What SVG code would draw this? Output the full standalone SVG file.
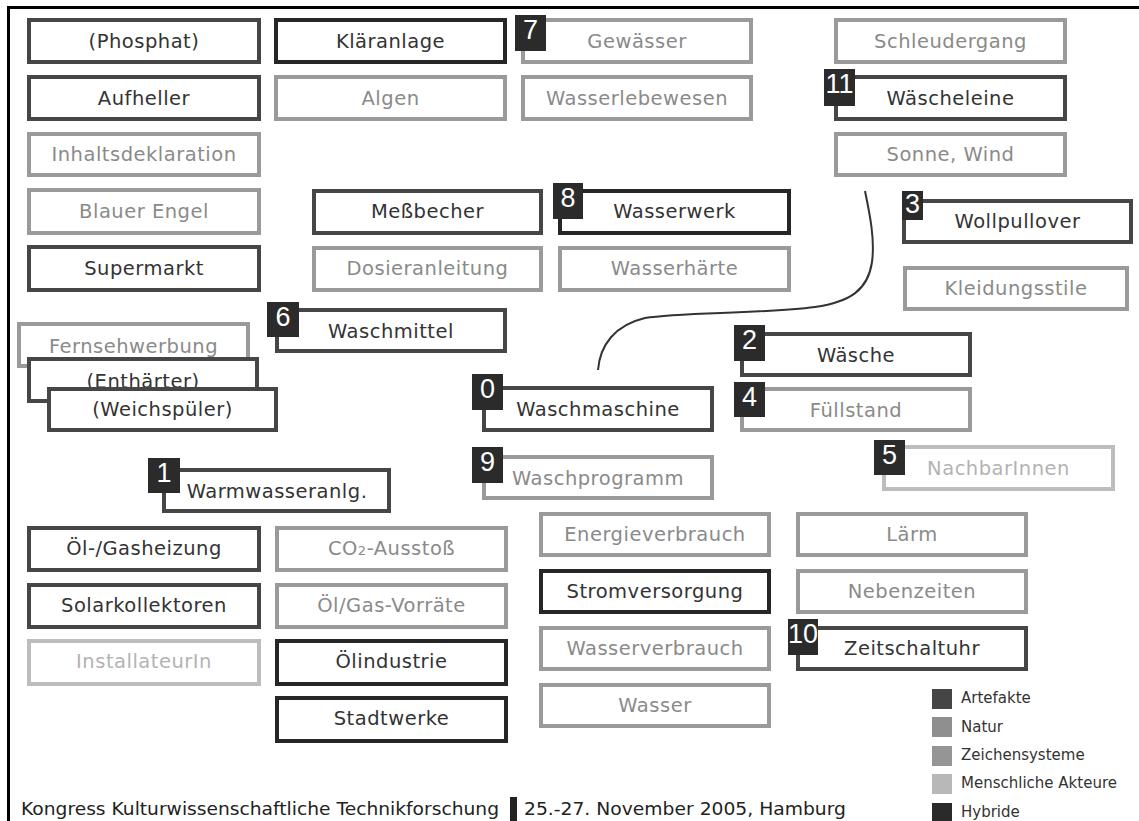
<svg xmlns="http://www.w3.org/2000/svg" width="1139" height="821" viewBox="0 0 1139 821">
<style>
rect.b{fill:#fff;stroke-width:4}
.a{stroke:#464646}
.h{stroke:#262626}
.n{stroke:#9a9a9a}
.m{stroke:#bdbdbd}
text{font-family:"DejaVu Sans","Liberation Sans",sans-serif}
text.l{font-size:19.5px;text-anchor:middle;letter-spacing:0.5px}
.ta{fill:#333}
.tn{fill:#8a8a8a}
.tm{fill:#b3b3b3}
rect.bd{fill:#2b2b2b}
text.d{font-family:"Liberation Sans",Arial,sans-serif;font-size:27px;fill:#fff;text-anchor:middle}
text.g{font-size:15px;fill:#333}
text.f{font-size:18px;fill:#222}
</style>
<rect width="1139" height="821" fill="#fff"/>
<path d="M8.5,821 V7.5 H1139" fill="none" stroke="#000" stroke-width="3"/>

<g id="connectors">
<path d="M865,191 C870,215 875,240 872,262 C868,290 850,302 815,307 C760,314 680,312 645,318 C615,325 600,345 598,370" fill="none" stroke="#333" stroke-width="2"/>
</g>

<g id="phosphat"><rect class="b a" x="29" y="20" width="230" height="42"/><text class="l ta" x="144" y="48">(Phosphat)</text></g>
<g id="aufheller"><rect class="b a" x="29" y="77" width="230" height="42"/><text class="l ta" x="144" y="105">Aufheller</text></g>
<g id="inhaltsdeklaration"><rect class="b n" x="29" y="134" width="230" height="41"/><text class="l tn" x="144" y="161">Inhaltsdeklaration</text></g>
<g id="blauer-engel"><rect class="b n" x="29" y="190" width="230" height="43"/><text class="l tn" x="144" y="218">Blauer Engel</text></g>
<g id="supermarkt"><rect class="b a" x="29" y="247" width="230" height="43"/><text class="l ta" x="144" y="275">Supermarkt</text></g>

<g id="klaeranlage"><rect class="b h" x="276" y="20" width="229" height="42"/><text class="l ta" x="390.5" y="48">Kläranlage</text></g>
<g id="algen"><rect class="b n" x="276" y="77" width="229" height="42"/><text class="l tn" x="390.5" y="105">Algen</text></g>

<g id="gewaesser"><rect class="b n" x="523" y="20" width="228" height="42"/><text class="l tn" x="637" y="48">Gewässer</text><rect class="bd" x="515" y="15" width="31" height="36"/><text class="d" x="530.5" y="39">7</text></g>
<g id="wasserlebewesen"><rect class="b n" x="523" y="77" width="228" height="42"/><text class="l tn" x="637" y="105">Wasserlebewesen</text></g>

<g id="schleudergang"><rect class="b n" x="836" y="20" width="229" height="42"/><text class="l tn" x="950.5" y="48">Schleudergang</text></g>
<g id="waescheleine"><rect class="b a" x="836" y="77" width="229" height="42"/><text class="l ta" x="950.5" y="105">Wäscheleine</text><rect class="bd" x="824" y="69" width="31" height="37"/><text class="d" x="839.5" y="93">11</text></g>
<g id="sonne-wind"><rect class="b n" x="836" y="134" width="229" height="41"/><text class="l tn" x="950.5" y="161">Sonne, Wind</text></g>

<g id="messbecher"><rect class="b a" x="314" y="191" width="227" height="42"/><text class="l ta" x="427.5" y="218">Meßbecher</text></g>
<g id="dosieranleitung"><rect class="b n" x="314" y="248" width="227" height="42"/><text class="l tn" x="427.5" y="275">Dosieranleitung</text></g>

<g id="wasserwerk"><rect class="b h" x="560" y="191" width="229" height="42"/><text class="l ta" x="674.5" y="218">Wasserwerk</text><rect class="bd" x="553" y="183" width="30" height="36"/><text class="d" x="568" y="207">8</text></g>
<g id="wasserhaerte"><rect class="b n" x="560" y="248" width="229" height="42"/><text class="l tn" x="674.5" y="275">Wasserhärte</text></g>

<g id="wollpullover"><rect class="b a" x="904" y="201" width="227" height="41"/><text class="l ta" x="1017.5" y="228">Wollpullover</text><rect class="bd" x="902" y="191" width="21" height="29"/><text class="d" x="912.5" y="213">3</text></g>
<g id="kleidungsstile"><rect class="b n" x="905" y="268" width="222" height="41"/><text class="l tn" x="1016" y="295">Kleidungsstile</text></g>

<g id="fernsehwerbung"><rect class="b n" x="19" y="324" width="229" height="42"/><text class="l tn" x="133.5" y="353">Fernsehwerbung</text></g>
<g id="enthaerter"><rect class="b a" x="29" y="359" width="228" height="42"/><text class="l ta" x="143" y="388">(Enthärter)</text></g>
<g id="weichspueler"><rect class="b a" x="49" y="389" width="227" height="41"/><text class="l ta" x="162.5" y="416">(Weichspüler)</text></g>

<g id="waschmittel"><rect class="b a" x="277" y="310" width="228" height="41"/><text class="l ta" x="391" y="338">Waschmittel</text><rect class="bd" x="267" y="302" width="32" height="35"/><text class="d" x="283" y="326">6</text></g>

<g id="warmwasseranlg"><rect class="b a" x="164" y="470" width="225" height="41"/><text class="l ta" x="277" y="498">Warmwasseranlg.</text><rect class="bd" x="148" y="458" width="32" height="35"/><text class="d" x="164" y="482">1</text></g>

<g id="waschmaschine"><rect class="b a" x="484" y="388" width="228" height="42"/><text class="l ta" x="598" y="416">Waschmaschine</text><rect class="bd" x="472" y="374" width="31" height="36"/><text class="d" x="487.5" y="398">0</text></g>
<g id="waesche"><rect class="b a" x="742" y="334" width="228" height="41"/><text class="l ta" x="856" y="362">Wäsche</text><rect class="bd" x="734" y="325" width="31" height="36"/><text class="d" x="749.5" y="349">2</text></g>
<g id="fuellstand"><rect class="b n" x="742" y="389" width="228" height="41"/><text class="l tn" x="856" y="417">Füllstand</text><rect class="bd" x="734" y="382" width="31" height="35"/><text class="d" x="749.5" y="406">4</text></g>
<g id="waschprogramm"><rect class="b n" x="484" y="457" width="228" height="41"/><text class="l tn" x="598" y="485">Waschprogramm</text><rect class="bd" x="472" y="447" width="31" height="36"/><text class="d" x="487.5" y="471">9</text></g>
<g id="nachbarinnen"><rect class="b m" x="884" y="447" width="229" height="42"/><text class="l tm" x="998.5" y="475">NachbarInnen</text><rect class="bd" x="874" y="440" width="31" height="35"/><text class="d" x="889.5" y="464">5</text></g>

<g id="energieverbrauch"><rect class="b n" x="541" y="514" width="228" height="41"/><text class="l tn" x="655" y="541">Energieverbrauch</text></g>
<g id="stromversorgung"><rect class="b h" x="541" y="571" width="228" height="41"/><text class="l ta" x="655" y="598">Stromversorgung</text></g>
<g id="wasserverbrauch"><rect class="b n" x="541" y="628" width="228" height="41"/><text class="l tn" x="655" y="655">Wasserverbrauch</text></g>
<g id="wasser"><rect class="b n" x="541" y="685" width="228" height="41"/><text class="l tn" x="655" y="712">Wasser</text></g>

<g id="laerm"><rect class="b n" x="798" y="514" width="228" height="41"/><text class="l tn" x="912" y="541">Lärm</text></g>
<g id="nebenzeiten"><rect class="b n" x="798" y="571" width="228" height="41"/><text class="l tn" x="912" y="598">Nebenzeiten</text></g>
<g id="zeitschaltuhr"><rect class="b a" x="798" y="628" width="228" height="41"/><text class="l ta" x="912" y="655">Zeitschaltuhr</text><rect class="bd" x="788" y="619" width="30" height="36"/><text class="d" x="803" y="643">10</text></g>

<g id="oel-gasheizung"><rect class="b a" x="29" y="528" width="230" height="42"/><text class="l ta" x="144" y="555">Öl-/Gasheizung</text></g>
<g id="solarkollektoren"><rect class="b a" x="29" y="585" width="230" height="42"/><text class="l ta" x="144" y="612">Solarkollektoren</text></g>
<g id="installateurin"><rect class="b m" x="29" y="641" width="230" height="43"/><text class="l tm" x="144" y="668">InstallateurIn</text></g>

<g id="co2-ausstoss"><rect class="b n" x="277" y="528" width="229" height="42"/><text class="l tn" x="391.5" y="555">CO<tspan font-size="13">2</tspan>-Ausstoß</text></g>
<g id="oel-gas-vorraete"><rect class="b n" x="277" y="585" width="229" height="42"/><text class="l tn" x="391.5" y="612">Öl/Gas-Vorräte</text></g>
<g id="oelindustrie"><rect class="b h" x="277" y="641" width="229" height="43"/><text class="l ta" x="391.5" y="668">Ölindustrie</text></g>
<g id="stadtwerke"><rect class="b h" x="277" y="698" width="229" height="43"/><text class="l ta" x="391.5" y="725">Stadtwerke</text></g>

<g id="legend">
<rect x="932" y="689" width="20" height="20" fill="#454545"/><text class="g" x="961" y="703">Artefakte</text>
<rect x="932" y="717" width="20" height="20" fill="#8f8f8f"/><text class="g" x="961" y="732">Natur</text>
<rect x="932" y="746" width="20" height="20" fill="#959595"/><text class="g" x="961" y="760">Zeichensysteme</text>
<rect x="932" y="774" width="20" height="20" fill="#b8b8b8"/><text class="g" x="961" y="788">Menschliche Akteure</text>
<rect x="932" y="803" width="20" height="20" fill="#2a2a2a"/><text class="g" x="961" y="817">Hybride</text>
</g>

<g id="footer">
<text class="f" x="21" y="815" textLength="478" lengthAdjust="spacingAndGlyphs">Kongress Kulturwissenschaftliche Technikforschung</text>
<rect x="510" y="797" width="7" height="24" fill="#222"/>
<text class="f" x="524" y="815" textLength="322" lengthAdjust="spacingAndGlyphs">25.-27. November 2005, Hamburg</text>
</g>
</svg>
